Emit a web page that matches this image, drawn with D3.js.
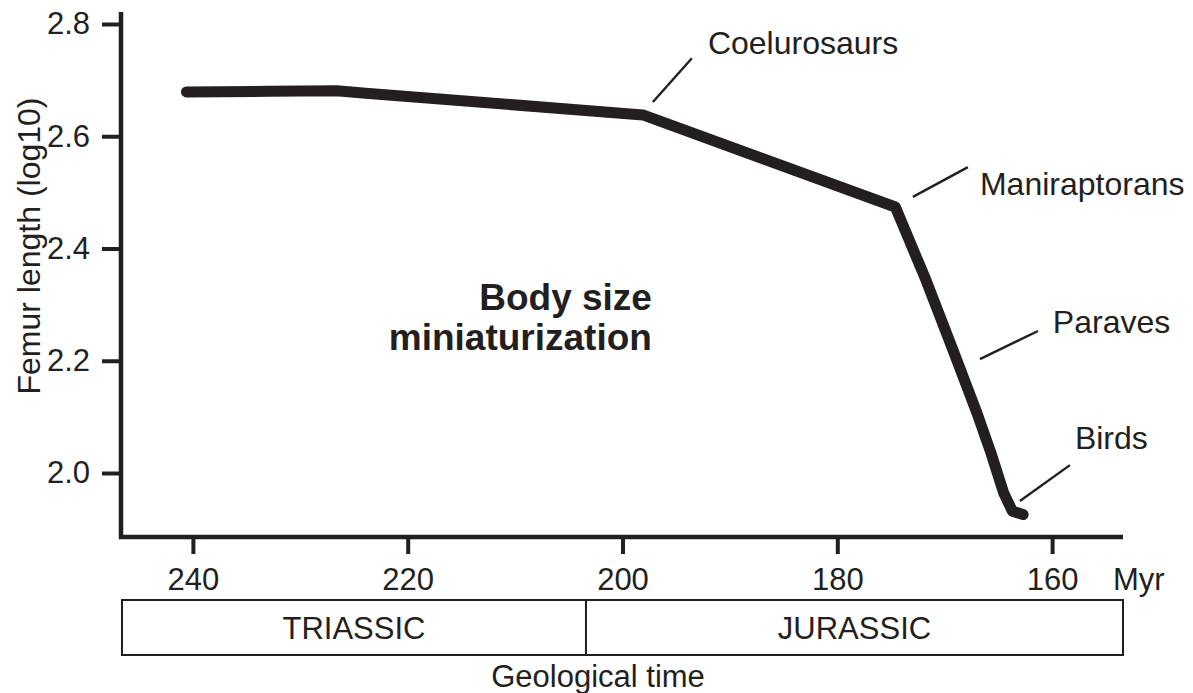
<!DOCTYPE html>
<html>
<head>
<meta charset="utf-8">
<script src="https://cdn.jsdelivr.net/npm/d3@7"></script>
<style>
  html, body { margin: 0; padding: 0; background: #fff; }
  svg { display: block; }
  text { font-family: "Liberation Sans", Arial, Helvetica, sans-serif; fill: #231f20; }
</style>
</head>
<body>
<svg id="chart" width="1193" height="693"></svg>
<script>
// ---- data ----
const timeMyr   = [240.6, 233.0, 226.6, 224.2, 198.1, 174.6, 171.75, 169.33, 167.0, 165.7, 164.5, 163.7, 162.7];
const femurLog  = [2.679, 2.680, 2.681, 2.677, 2.638, 2.474, 2.344, 2.224, 2.107, 2.036, 1.964, 1.932, 1.926];
const xTicks    = [240, 220, 200, 180, 160];
const yTicks    = [2.0, 2.2, 2.4, 2.6, 2.8];
const periods   = ["TRIASSIC", "JURASSIC"];
const periodStart = [246.6, 203.4];
const periodEnd   = [203.4, 153.4];
const cladeNames = ["Coelurosaurs", "Maniraptorans", "Paraves", "Birds"];
const cladeFromMyr = [197.17, 172.96, 166.72, 163.0];
const cladeFromVal = [2.661, 2.492, 2.203, 1.950];
const cladeToMyr   = [193.54, 167.84, 161.32, 158.34];
const cladeToVal   = [2.739, 2.545, 2.253, 2.014];
const cladeTextMyr = [192.05, 166.72, 159.93, 157.88];
const cladeTextVal = [2.747, 2.495, 2.249, 2.042];
const headline = ["Body size", "miniaturization"];

// ---- layout ----
const svg = d3.select("#chart");
const ink = "#231f20";
const x = d3.scaleLinear().domain([246.6, 153.4]).range([122, 1123]);
const y = d3.scaleLinear().domain([2.8, 2.0]).range([24, 473]);
const yBottom = 537, yTop = 12;

// axes
const xAxis = d3.axisBottom(x).tickValues(xTicks).tickSize(17).tickPadding(8).tickFormat(d3.format("d"));
const gx = svg.append("g").attr("transform", `translate(0,${yBottom})`).call(xAxis);
gx.select(".domain").remove();
gx.selectAll(".tick line").attr("stroke", ink).attr("stroke-width", 4);
gx.selectAll(".tick text").attr("font-size", 31).attr("fill", ink)
  .attr("dy", null).attr("y", 53);

const yAxis = d3.axisLeft(y).tickValues(yTicks).tickSize(19).tickPadding(12).tickFormat(d3.format(".1f"));
const gy = svg.append("g").attr("transform", `translate(121,0)`).call(yAxis);
gy.select(".domain").remove();
gy.selectAll(".tick line").attr("stroke", ink).attr("stroke-width", 4);
gy.selectAll(".tick text").attr("font-size", 31).attr("fill", ink).attr("x", -31);

// axis lines
svg.append("path")
  .attr("d", `M121,${yTop} V${yBottom} H${x.range()[1]}`)
  .attr("fill", "none").attr("stroke", ink).attr("stroke-width", 4.5);

// Myr unit
svg.append("text").attr("x", 1113).attr("y", yBottom + 53).attr("font-size", 31).text("Myr");

// y title
svg.append("text")
  .attr("transform", "translate(40,246) rotate(-90)")
  .attr("text-anchor", "middle").attr("font-size", 32)
  .text("Femur length (log10)");

// period boxes
const boxTop = 600, boxBot = 655;
periods.forEach((p, i) => {
  const x0 = x(periodStart[i]), x1 = x(periodEnd[i]);
  svg.append("rect").attr("x", x0).attr("y", boxTop).attr("width", x1 - x0).attr("height", boxBot - boxTop)
    .attr("fill", "none").attr("stroke", ink).attr("stroke-width", 2);
  svg.append("text").attr("x", (x0 + x1) / 2).attr("y", 639).attr("text-anchor", "middle")
    .attr("font-size", 31).text(p);
});
svg.append("text").attr("x", 598).attr("y", 687).attr("text-anchor", "middle")
  .attr("font-size", 31).text("Geological time");

// main trend line
const line = d3.line().x((d, i) => x(timeMyr[i])).y((d, i) => y(femurLog[i])).curve(d3.curveLinear);
svg.append("path").datum(timeMyr).attr("d", line)
  .attr("fill", "none").attr("stroke", ink).attr("stroke-width", 11)
  .attr("stroke-linejoin", "round").attr("stroke-linecap", "round");

// clade annotations
cladeNames.forEach((n, i) => {
  svg.append("line")
    .attr("x1", x(cladeFromMyr[i])).attr("y1", y(cladeFromVal[i]))
    .attr("x2", x(cladeToMyr[i])).attr("y2", y(cladeToVal[i]))
    .attr("stroke", ink).attr("stroke-width", 2.4);
  svg.append("text").attr("x", x(cladeTextMyr[i])).attr("y", y(cladeTextVal[i]))
    .attr("font-size", 32).text(n);
});

// headline
headline.forEach((t, i) => {
  svg.append("text").attr("x", x(197.26)).attr("y", y(2.290 - i * 0.0713))
    .attr("text-anchor", "end").attr("font-size", 37).attr("font-weight", "bold").text(t);
});
</script>
</body>
</html>
